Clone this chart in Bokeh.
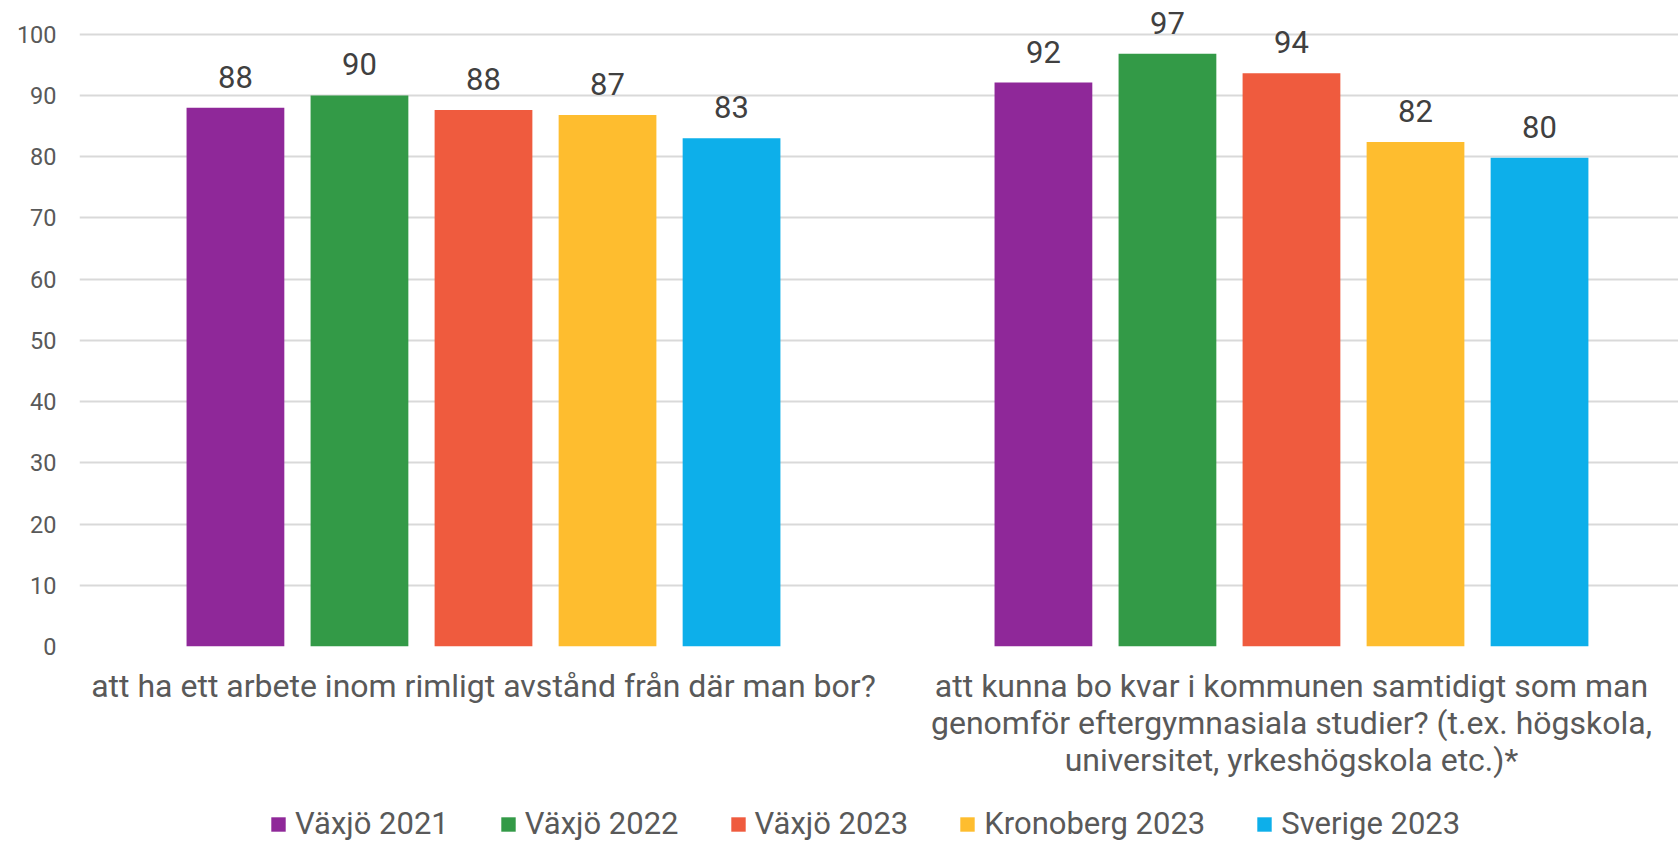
from bokeh.plotting import figure
from bokeh.layouts import column
from bokeh.models import Range1d, FixedTicker, ColumnDataSource, Legend, LegendItem
from bokeh.embed import file_html
from bokeh.resources import INLINE
from bokeh.core.properties import value

categories = [
    "att ha ett arbete inom rimligt avstånd från där man bor?",
    "att kunna bo kvar i kommunen samtidigt som man\ngenomför eftergymnasiala studier? (t.ex. högskola,\nuniversitet, yrkeshögskola etc.)*",
]
series = ["Växjö 2021", "Växjö 2022", "Växjö 2023", "Kronoberg 2023", "Sverige 2023"]
vaxjo_2021 = [88.0, 92.1]
vaxjo_2022 = [90.0, 96.8]
vaxjo_2023 = [87.6, 93.6]
kronoberg_2023 = [86.8, 82.4]
sverige_2023 = [83.0, 79.8]
y_ticks = [0, 10, 20, 30, 40, 50, 60, 70, 80, 90, 100]

colors = ["#8F2899", "#339A47", "#EF5B3E", "#FEBD2F", "#0DAFEA"]
all_values = [vaxjo_2021, vaxjo_2022, vaxjo_2023, kronoberg_2023, sverige_2023]

FONT = "Roboto"
pitch = 0.1535
bar_w = 0.121

p = figure(width=1678, height=782, output_backend="svg", toolbar_location=None,
           x_range=Range1d(0.5, 0.5 + 1.979), y_range=Range1d(0, 105.5))
p.min_border_left = 79
p.min_border_right = 0
p.min_border_top = 0
p.min_border_bottom = 136
p.outline_line_color = None
p.background_fill_color = "white"
p.border_fill_color = "white"

# legend-only strip below the chart (its swatch renderers lie outside its view)
lg = figure(width=1678, height=60, output_backend="svg", toolbar_location=None,
            x_range=Range1d(1000, 1001), y_range=Range1d(1000, 1001),
            x_axis_location=None, y_axis_location=None)
lg.min_border = 0
lg.outline_line_color = None
lg.xgrid.visible = False
lg.ygrid.visible = False
lg.background_fill_color = "white"
lg.border_fill_color = "white"

items = []
for j, (name, vals, col) in enumerate(zip(series, all_values, colors)):
    xs = [i + 1 + (j - 2) * pitch for i in range(len(categories))]
    src = ColumnDataSource(dict(x=xs, top=vals, lab=[str(round(v)) for v in vals]))
    p.vbar(x="x", top="top", width=bar_w, bottom=0, source=src,
           fill_color=col, line_color=None)
    p.text(x="x", y="top", text="lab", source=src, text_align="center",
           text_baseline="alphabetic", y_offset=-31, text_font=value(FONT),
           text_font_size="31px", text_color="#404040")
    r = lg.vbar(x="x", top="top", width=bar_w, bottom=0, source=src,
                fill_color=col, line_color=None)
    items.append(LegendItem(label=name, renderers=[r]))

p.xgrid.grid_line_color = None
p.ygrid.grid_line_color = "#D9D9D9"
p.ygrid.grid_line_width = 2
p.ygrid.ticker = FixedTicker(ticks=y_ticks)

p.yaxis.ticker = FixedTicker(ticks=y_ticks)
p.yaxis.axis_line_color = None
p.yaxis.major_tick_line_color = None
p.yaxis.minor_tick_line_color = None
p.yaxis.major_label_text_font = FONT
p.yaxis.major_label_text_font_size = "23.5px"
p.yaxis.major_label_text_color = "#595959"
p.yaxis.major_label_standoff = 17

p.xaxis.ticker = FixedTicker(ticks=[1, 2])
p.xaxis.major_label_overrides = {1: categories[0], 2: categories[1]}
p.xaxis.axis_line_color = None
p.xaxis.major_tick_line_color = None
p.xaxis.minor_tick_line_color = None
p.xaxis.major_label_text_font = FONT
p.xaxis.major_label_text_font_size = "32px"
p.xaxis.major_label_text_line_height = 0.98
p.xaxis.major_label_text_color = "#595959"
p.xaxis.major_label_standoff = 14

legend = Legend(items=items, orientation="horizontal", location=(190, 0),
                label_text_font=FONT, label_text_font_size="31px",
                label_text_color="#595959", glyph_width=18, glyph_height=18,
                label_standoff=8, spacing=50, padding=0, margin=0,
                border_line_color=None, background_fill_alpha=0)
lg.add_layout(legend, "center")

layout = column(p, lg, spacing=0)
open("out.html", "w").write(file_html(layout, INLINE))
